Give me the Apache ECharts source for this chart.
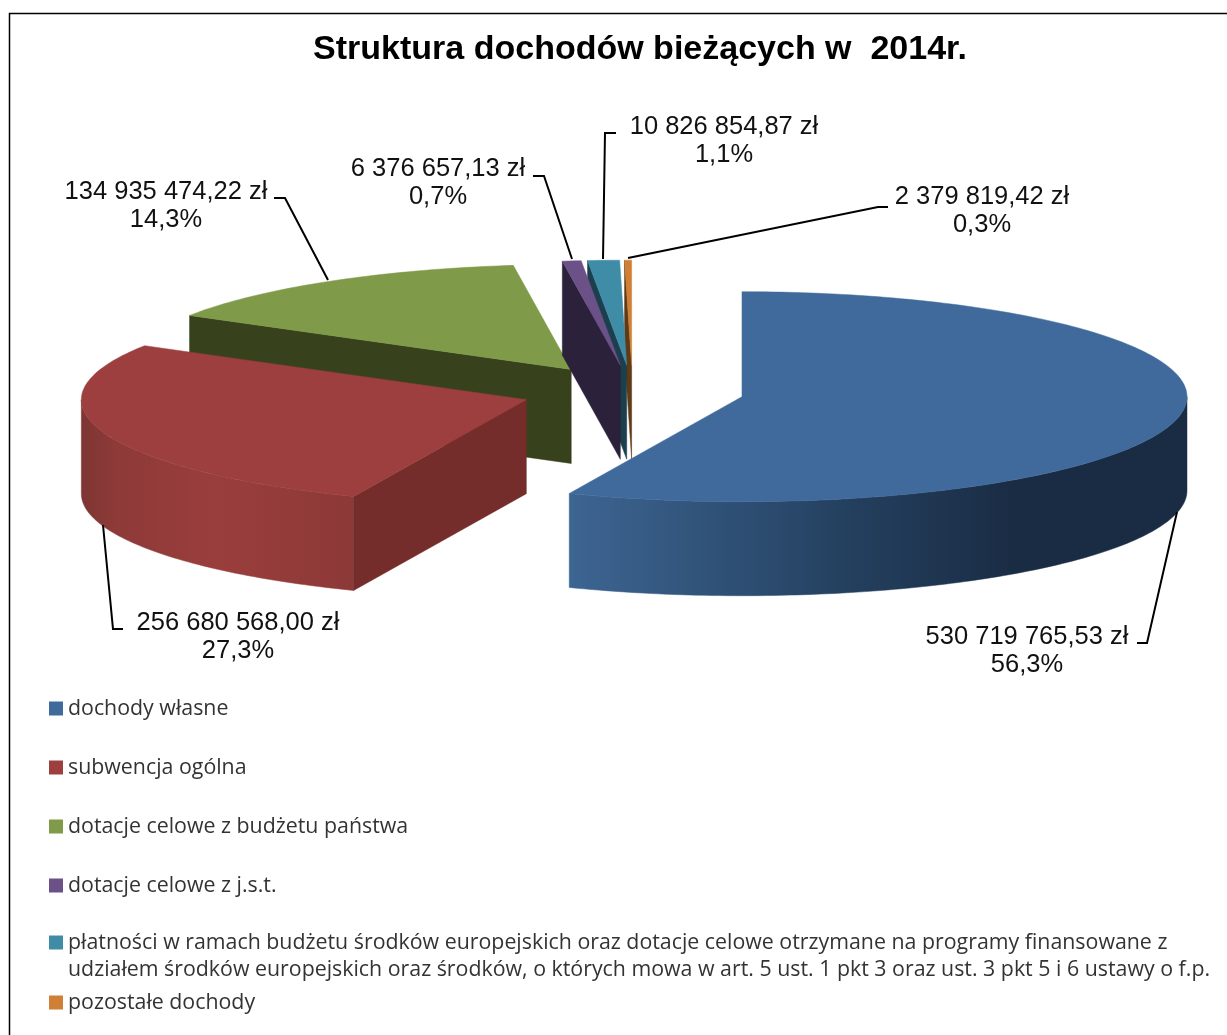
<!DOCTYPE html>
<html><head><meta charset="utf-8">
<style>html,body{margin:0;padding:0;background:#fff}#c{width:1227px;height:1035px}</style>
<script src="https://cdn.jsdelivr.net/npm/echarts@6/dist/echarts.min.js"></script>
</head><body><div id="c"></div>
<script>
const titleText = 'Struktura dochodów bieżących w  2014r.';
const categories = ['dochody własne','subwencja ogólna','dotacje celowe z budżetu państwa','dotacje celowe z j.s.t.','płatności w ramach budżetu środków europejskich oraz dotacje celowe otrzymane na programy finansowane z','pozostałe dochody'];
const categoryContinuation = 'udziałem środków europejskich oraz środków, o których mowa w art. 5 ust. 1 pkt 3 oraz ust. 3 pkt 5 i 6 ustawy o f.p.';
const values = [530719765.53,256680568.00,134935474.22,6376657.13,10826854.87,2379819.42];
const topColors = ['#416a9c','#9c3f3e','#7f9a48','#6c5189','#3f8ca6','#d07f36'];
const faceColors = ['#1a2c44','#742d2b','#37411c','#2b213b','#1b3f4c','#5f3a17'];
const wallStops = [
  [[0,'#3d6592'],[0.45,'#24405f'],[0.72,'#1a2c44'],[1,'#1a2c44']],
  [[0,'#7d3533'],[0.12,'#8d3a38'],[0.5,'#9a3e3c'],[1,'#8c3937']],
  [[0,'#5a6e33'],[1,'#5a6e33']],[[0,'#4b3960'],[1,'#4b3960']],[[0,'#2c6375'],[1,'#2c6375']],[[0,'#8f5825'],[1,'#8f5825']]
];
const zOrder = [6,5,3,4,2,1];
const pie = {cx:632.5, cy:391.5, rx:445, ry:105, depth:94, explode:0.251};
const labelAt = [[1027,651],[238,637],[166,206],[438,183],[724,141],[982,211]];
const leaders = [
  [[1177,512],[1147,643],[1137,643]],
  [[103,525],[113,629],[123,629]],
  [[328,280],[285,198],[274,198]],
  [[572,259],[544,176],[533,176]],
  [[603,259],[605,133],[616,133]],
  [[628,258],[878,207],[888,207]]
];
const legendTops = [698,757,816,875,932,992];

const total = values.reduce((a,b)=>a+b,0);
const rad = d=>d*Math.PI/180;
function fmtMoney(v){
  const [i,d]=v.toFixed(2).split('.');
  return i.replace(/\B(?=(\d{3})+(?!\d))/g,' ')+','+d+' zł';
}
function fmtPct(v){return (v/total*100).toFixed(1).replace('.',',')+'%';}
function angles(idx){
  let s=0; for(let i=0;i<idx;i++) s+=values[i];
  return [s/total*360,(s+values[idx])/total*360];
}
function renderSlice(idx){
  const [a0,a1]=angles(idx), mid=(a0+a1)/2;
  const ax=pie.cx+pie.explode*pie.rx*Math.sin(rad(mid));
  const ay=pie.cy-pie.explode*pie.ry*Math.cos(rad(mid));
  const pt=(a)=>[ax+pie.rx*Math.sin(rad(a)),ay-pie.ry*Math.cos(rad(a))];
  const d=pie.depth, kids=[];
  const arc=(f,t)=>{const n=Math.max(2,Math.ceil((t-f)/1)),o=[];for(let i=0;i<=n;i++)o.push(pt(f+(t-f)*i/n));return o;};
  const poly=(points,fill)=>kids.push({type:'polygon',shape:{points},style:{fill,stroke:fill,lineWidth:0.5}});
  const wF=Math.max(a0,90), wT=Math.min(a1,270);
  if(wT>wF){
    const top=arc(wF,wT), bot=top.map(p=>[p[0],p[1]+d]).reverse();
    poly(top.concat(bot),{type:'linear',x:0,y:0,x2:1,y2:0,colorStops:wallStops[idx].map(s=>({offset:s[0],color:s[1]}))});
  }
  if(Math.sin(rad(a0))<-1e-6){
    const p=pt(a0); poly([[ax,ay],p,[p[0],p[1]+d],[ax,ay+d]],faceColors[idx]);
  }
  if(Math.sin(rad(a1))>1e-6){
    const p=pt(a1); poly([[ax,ay],p,[p[0],p[1]+d],[ax,ay+d]],faceColors[idx]);
  }
  poly([[ax,ay]].concat(arc(a0,a1)),topColors[idx]);
  return {type:'group',children:kids};
}
function renderLabel(idx){
  return {type:'group',children:[
    {type:'polyline',shape:{points:leaders[idx]},style:{stroke:'#000',lineWidth:2,fill:null}},
    {type:'text',x:labelAt[idx][0],y:labelAt[idx][1],style:{
      text:fmtMoney(values[idx])+'\n'+fmtPct(values[idx]),
      font:'25.5px "Liberation Sans", Arial, sans-serif',lineHeight:28.5,fill:'#111',align:'center',verticalAlign:'middle'}}
  ]};
}
const series = categories.map((name,idx)=>({
  type:'custom',name,coordinateSystem:'none',z:zOrder[idx],
  itemStyle:{color:topColors[idx]},data:[[values[idx]]],silent:true,animation:false,
  renderItem:()=>renderSlice(idx)
}));
series.push({type:'custom',name:'etykiety',coordinateSystem:'none',z:20,data:[[0]],silent:true,animation:false,
  renderItem:()=>({type:'group',children:values.map((v,i)=>renderLabel(i))})});
const legendFont = {fontFamily:'"Open Sans", sans-serif',fontSize:21.35,color:'#333'};
const option = {
  backgroundColor:'#fff',animation:false,
  title:{text:titleText,left:635,top:28,textAlign:'center',textStyle:{fontFamily:'"Liberation Sans", Arial, sans-serif',fontWeight:'bold',fontSize:34,color:'#000'}},
  legend:categories.map((name,i)=>({
    data:[{name,icon:'rect'}],left:49,top:legendTops[i],padding:0,itemWidth:14,itemHeight:14,selectedMode:false,
    textStyle:legendFont
  })),
  graphic:[
    {type:'polyline',shape:{points:[[9.5,1035],[9.5,13.5],[1227,13.5]]},style:{stroke:'#000',lineWidth:1.5,fill:null},silent:true},
    {type:'text',x:68,y:970,style:{text:categoryContinuation,font:'21.35px "Open Sans", sans-serif',fill:'#333',verticalAlign:'middle'},silent:true}
  ],
  series
};
echarts.init(document.getElementById('c'),null,{renderer:'canvas'}).setOption(option);
</script></body></html>
